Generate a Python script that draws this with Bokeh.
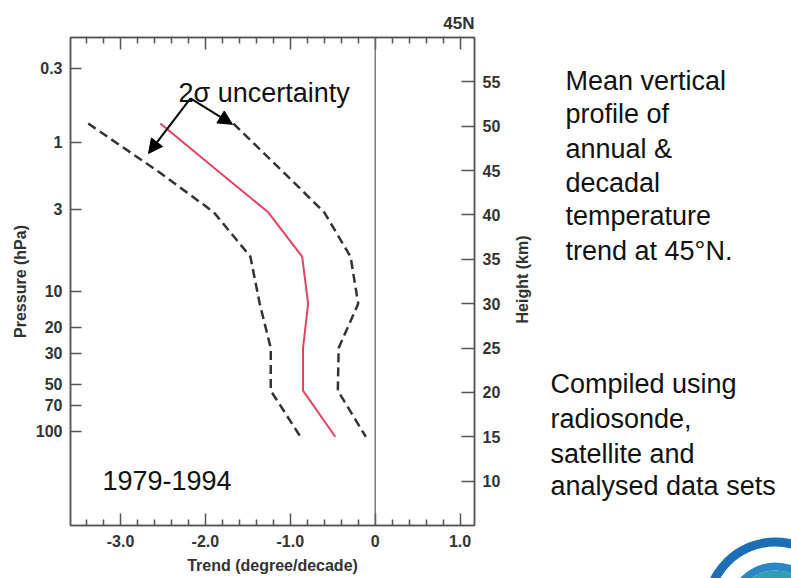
import math
from bokeh.plotting import figure
from bokeh.layouts import row
from bokeh.models import (Range1d, LinearAxis, FixedTicker, Span, Label, Arrow,
                          NormalHead, CustomJSTickFormatter)
from bokeh.embed import file_html
from bokeh.resources import INLINE

# ---------------- data ----------------
heights_km = [50.3, 45.0, 40.3, 35.3, 30.0, 25.0, 20.2, 15.0]
trend_mean = [-2.53, -1.86, -1.26, -0.86, -0.79, -0.85, -0.85, -0.47]
trend_low = [-3.38, -2.57, -1.90, -1.47, -1.36, -1.23, -1.23, -0.88]
trend_high = [-1.67, -1.10, -0.60, -0.29, -0.20, -0.43, -0.44, -0.11]

pressure_labels = ["0.3", "1", "3", "10", "20", "30", "50", "70", "100"]
pressure_heights_km = [56.52, 48.18, 40.63, 31.38, 27.32, 24.39, 20.90, 18.53, 15.60]
height_ticks = [10, 15, 20, 25, 30, 35, 40, 45, 50, 55]
x_major = [-3.0, -2.0, -1.0, 0.0, 1.0]
x_major_labels = ["-3.0", "-2.0", "-1.0", "0", "1.0"]
x_minor = [-3.4, -3.2, -2.8, -2.6, -2.4, -2.2, -1.8, -1.6, -1.4, -1.2,
           -0.8, -0.6, -0.4, -0.2, 0.2, 0.4, 0.6, 0.8]

text_block1 = ["Mean vertical", "profile of", "annual &", "decadal",
               "temperature", "trend at 45°N."]
text_block2 = ["Compiled using", "radiosonde,", "satellite and",
               "analysed data sets"]

FONT = "Liberation Sans"
AX = "#555555"

p = figure(width=505, height=578, x_range=Range1d(-3.589, 1.17),
           y_range=Range1d(5, 60), output_backend="svg", toolbar_location=None,
           x_axis_location=None, y_axis_location=None,
           min_border_left=70, min_border_right=31, min_border_top=37,
           min_border_bottom=53)
p.frame_align = False
p.grid.visible = False
p.outline_line_color = AX
p.outline_line_width = 1.5
p.background_fill_color = "white"
p.border_fill_color = "white"
p.title.text = "45N"
p.title.align = "right"
p.title.text_font = FONT
p.title.text_font_size = "17px"
p.title.text_font_style = "bold"
p.title.text_color = "#333333"
p.title.standoff = 9


def style_axis(ax, tick_in):
    ax.axis_line_color = AX
    ax.axis_line_width = 1.5
    ax.major_tick_line_color = AX
    ax.major_tick_line_width = 1.5
    ax.minor_tick_line_color = AX
    ax.minor_tick_line_width = 1.5
    ax.major_tick_in = tick_in
    ax.major_tick_out = 0
    ax.minor_tick_in = 6
    ax.minor_tick_out = 0
    ax.major_label_text_font = FONT
    ax.major_label_text_font_style = "bold"
    ax.major_label_text_font_size = "16px"
    ax.major_label_text_color = "#333333"
    ax.axis_label_text_font = FONT
    ax.axis_label_text_font_style = "bold"
    ax.axis_label_text_font_size = "16px"
    ax.axis_label_text_color = "#333333"


xb = LinearAxis(ticker=FixedTicker(ticks=x_major, minor_ticks=x_minor),
                axis_label="Trend (degree/decade)",
                major_label_overrides=dict(zip(x_major, x_major_labels)))
style_axis(xb, 12)
xb.major_label_standoff = 9
xb.axis_label_standoff = 7
p.add_layout(xb, "below")

xt = LinearAxis(ticker=FixedTicker(ticks=x_major, minor_ticks=x_minor),
                formatter=CustomJSTickFormatter(code="return ''"))
style_axis(xt, 12)
xt.major_label_standoff = 0
p.add_layout(xt, "above")

yl = LinearAxis(ticker=FixedTicker(ticks=pressure_heights_km),
                axis_label="Pressure (hPa)",
                major_label_overrides=dict(zip(pressure_heights_km, pressure_labels)))
style_axis(yl, 11)
yl.minor_tick_in = 0
yl.major_label_standoff = 8
yl.axis_label_standoff = 4
p.add_layout(yl, "left")

yr = LinearAxis(ticker=FixedTicker(ticks=height_ticks))
style_axis(yr, 13)
yr.minor_tick_in = 0
yr.major_label_standoff = 8
p.add_layout(yr, "right")

p.add_layout(Span(location=0, dimension="height", line_color="#666666",
                  line_width=1.3))

p.line(trend_low, heights_km, line_color="#333333", line_width=2.5,
       line_dash="9 5")
p.line(trend_high, heights_km, line_color="#333333", line_width=2.5,
       line_dash="9 5")
p.line(trend_mean, heights_km, line_color="#e2445f", line_width=2)

for xe, ye in [(-2.67, 46.94), (-1.681, 50.21)]:
    p.add_layout(Arrow(end=NormalHead(size=14, fill_color="black",
                                      line_color="black"),
                       x_start=-2.176, y_start=53.14, x_end=xe, y_end=ye,
                       line_color="black", line_width=2))

big = dict(text_font=FONT, text_font_size="27px", text_color="#111111",
           text_baseline="alphabetic", text_align="left")
p.add_layout(Label(x=-2.317, y=53.7, text="2σ uncertainty", **big))
p.add_layout(Label(x=-3.212, y=10.07, text="1979-1994", **big))

# ---------------- right-hand text panel (page-pixel coordinates) ----------------
p2 = figure(width=286, height=578, x_range=Range1d(505, 791),
            y_range=Range1d(578, 0), output_backend="svg",
            toolbar_location=None, x_axis_location=None, y_axis_location=None,
            min_border=0)
p2.frame_align = False
p2.grid.visible = False
p2.outline_line_color = None
p2.background_fill_color = "white"
p2.border_fill_color = "white"

p2.add_layout(Label(x=522, y=279, text="Height (km)", angle=math.pi / 2,
                    text_font=FONT, text_font_size="16px",
                    text_font_style="bold", text_color="#333333",
                    text_align="center", text_baseline="middle"))

ys1 = [80, 113, 148, 182, 215, 250]
for t, yy in zip(text_block1, ys1):
    p2.add_layout(Label(x=565, y=yy, text=t, **big))
ys2 = [383, 418, 453, 485]
for t, yy in zip(text_block2, ys2):
    p2.add_layout(Label(x=550, y=yy, text=t, **big))

# partial logo in the bottom-right corner (decoration)
p2.annulus(x=[775], y=[610], inner_radius=64, outer_radius=73,
           fill_color="#1d6fb5", line_color=None)
p2.annulus(x=[775], y=[610], inner_radius=40, outer_radius=48,
           fill_color="#2a86c4", line_color=None)
p2.scatter(x=[775], y=[610], size=80, fill_color="#2f9fb8", line_color=None)

open("out.html", "w").write(file_html(row(p, p2), INLINE))
